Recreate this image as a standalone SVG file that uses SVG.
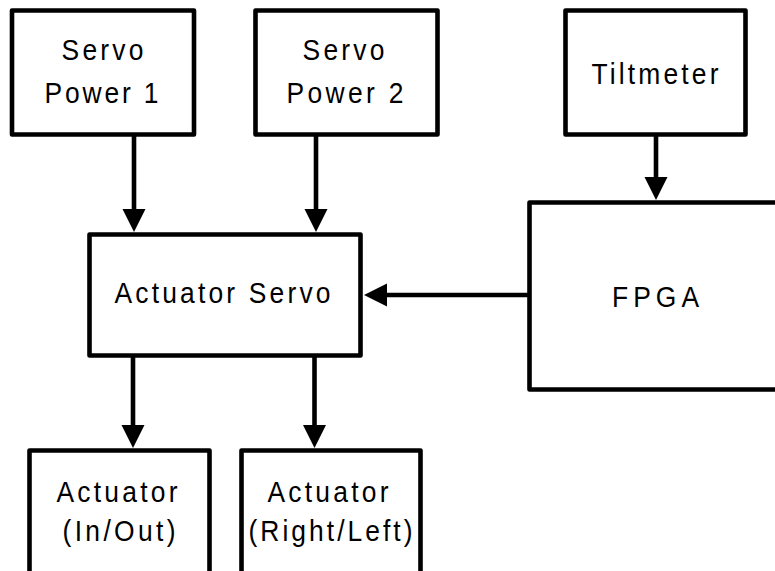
<svg xmlns="http://www.w3.org/2000/svg" width="775" height="571" viewBox="0 0 775 571">
<style>
  .box{fill:#fff;stroke:#000;stroke-width:4.6;stroke-linejoin:round}
  .lbl{font-family:"Liberation Sans",Arial,sans-serif;font-size:30px;text-anchor:middle;fill:#000}
  .conn{stroke:#000;stroke-width:4.6;fill:none;marker-end:url(#ah)}
</style>
<defs>
  <marker id="ah" markerUnits="userSpaceOnUse" markerWidth="24" markerHeight="24" viewBox="0 0 24 24" refX="1" refY="12" orient="auto">
    <path d="M0,0.5 L23,12 L0,23.5 z" fill="#000"/>
  </marker>
</defs>
<rect width="775" height="571" fill="#fff"/>
<g id="connectors">
  <path class="conn" d="M134,134.5 V210"/>
  <path class="conn" d="M316,134.5 V210"/>
  <path class="conn" d="M656,134.5 V178"/>
  <path class="conn" d="M529.5,295 H386"/>
  <path class="conn" d="M133,355.5 V426"/>
  <path class="conn" d="M314.5,355.5 V426"/>
</g>
<g id="servo-power-1">
  <rect class="box" x="12" y="10.5" width="182" height="124"/>
  <text class="lbl" transform="matrix(0.88,0,0,1,102.5,60)" textLength="93" lengthAdjust="spacing">Servo</text>
  <text class="lbl" transform="matrix(0.88,0,0,1,101.5,103)" textLength="129.5" lengthAdjust="spacing">Power 1</text>
</g>
<g id="servo-power-2">
  <rect class="box" x="255.5" y="10.5" width="182" height="124"/>
  <text class="lbl" transform="matrix(0.88,0,0,1,343.5,60)" textLength="93" lengthAdjust="spacing">Servo</text>
  <text class="lbl" transform="matrix(0.88,0,0,1,345,103)" textLength="133" lengthAdjust="spacing">Power 2</text>
</g>
<g id="tiltmeter">
  <rect class="box" x="565.5" y="10.5" width="180" height="124"/>
  <text class="lbl" transform="matrix(0.88,0,0,1,655,84)" textLength="144.3" lengthAdjust="spacing">Tiltmeter</text>
</g>
<g id="fpga">
  <rect class="box" x="529.5" y="202.5" width="260" height="187"/>
  <text class="lbl" transform="matrix(0.88,0,0,1,655.5,307)" textLength="99" lengthAdjust="spacing">FPGA</text>
</g>
<g id="actuator-servo">
  <rect class="box" x="89.5" y="234.5" width="271" height="121"/>
  <text class="lbl" transform="matrix(0.88,0,0,1,222.5,303)" textLength="245.5" lengthAdjust="spacing">Actuator Servo</text>
</g>
<g id="actuator-in-out">
  <rect class="box" x="29.5" y="450.5" width="180" height="140"/>
  <text class="lbl" transform="matrix(0.88,0,0,1,117,502)" textLength="137.5" lengthAdjust="spacing">Actuator</text>
  <text class="lbl" transform="matrix(0.88,0,0,1,119,541)" textLength="128.4" lengthAdjust="spacing">(In/Out)</text>
</g>
<g id="actuator-right-left">
  <rect class="box" x="241.5" y="450.5" width="179" height="140"/>
  <text class="lbl" transform="matrix(0.88,0,0,1,328,502)" textLength="137.5" lengthAdjust="spacing">Actuator</text>
  <text class="lbl" transform="matrix(0.88,0,0,1,330.5,541)" textLength="186.4" lengthAdjust="spacing">(Right/Left)</text>
</g>
</svg>
